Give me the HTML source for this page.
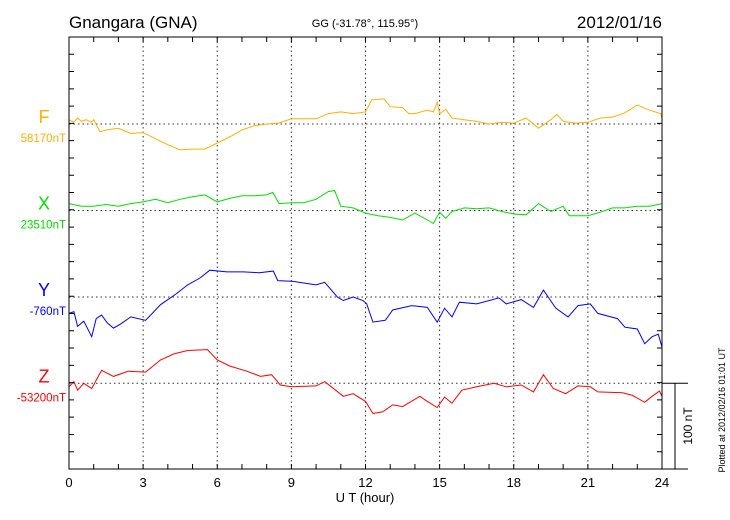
<!DOCTYPE html>
<html><head><meta charset="utf-8"><style>
body{margin:0;background:#fff;width:730px;height:520px;overflow:hidden}
svg{display:block;font-family:"Liberation Sans",sans-serif}
</style></head><body>
<svg id="chart" width="730" height="520">
<text x="69" y="28" font-size="17">Gnangara (GNA)</text>
<text x="365" y="27" font-size="11" text-anchor="middle">GG (-31.78°, 115.95°)</text>
<text x="662" y="28" font-size="17" text-anchor="end">2012/01/16</text>
<text x="365" y="502" font-size="13" text-anchor="middle">U T (hour)</text>
<text transform="translate(725,410) rotate(-90)" font-size="9" text-anchor="middle">Plotted at 2012/02/16 01:01  UT</text>
<text transform="translate(692,426) rotate(-90)" font-size="12" text-anchor="middle">100 nT</text>
<g id="grid"></g><g id="series"></g><g id="axes"></g>
</svg>
<script>
const hoursF=[0,0.2,0.35,0.5,0.7,0.9,1,1.25,1.5,2,2.5,3,3.5,4,4.5,5,5.5,6,6.5,7,7.5,8,8.5,9,9.5,10,10.5,11,11.5,12,12.25,12.75,13,13.5,13.75,14,14.5,14.75,14.9,15,15.25,15.5,16,16.5,17,17.5,18,18.5,19,19.5,19.75,20,20.5,21,21.5,22,22.5,23,23.5,23.95,24];
const valsF=[5,2,7,3,5,2,5,-9,-7,-5,-11,-10,-17,-24,-30,-29,-29,-22,-15,-7,-2,0,1,6,6,6,12,14,12,14,28,29,20,19,12,12,16,14,25,12,17,7,5,3,0,2,1,7,-5,5,11,3,1,2,7,8,13,22,16,12,6];
const hoursX=[0,0.5,1,1.5,2,2.5,3,3.5,4,4.5,5,5.5,6,6.5,7,7.5,8,8.25,8.5,9,9.5,10,10.5,10.75,11,11.5,12,12.5,13,13.5,14,14.5,14.75,15,15.25,15.5,16,16.5,17,17.5,18,18.5,19,19.5,20,20.25,21,21.5,22,22.5,23,23.5,24];
const valsX=[8,5,5,7,5,8,10,13,9,13,16,18,10,14,17,17,18,21,8,9,9,13,22,23,5,3,-3,-6,-8,-11,-3,-11,-15,-2,-9,-1,3,2,3,-1,-4,-5,8,-1,5,-6,-6,-2,3,3,5,5,8];
const hoursY=[0,0.2,0.35,0.6,0.92,1.1,1.32,1.55,1.8,2.1,2.5,3.1,3.7,4.36,4.8,5.3,5.7,6.4,7.05,7.7,8.27,8.45,9.07,10,10.35,10.86,11.1,11.5,11.9,12.05,12.3,12.8,13.1,13.87,14.5,14.9,15.2,15.5,15.8,16.5,17.4,17.7,18.3,18.8,19.2,19.7,20.2,20.6,21.1,21.4,22.2,22.5,23,23.3,23.6,23.85,24];
const valsY=[-19,-17,-34,-28,-46,-25,-21,-30,-36,-31,-23,-27,-9,4,14,22,31,29,29,28,30,19,18,14,17,0,-4,0,-4,-8,-29,-27,-15,-10,-12,-29,-13,-23,-6,-8,-1,-8,-3,-12,8,-13,-23,-10,-8,-19,-25,-35,-37,-54,-46,-43,-58];
const hoursZ=[0,0.2,0.35,0.6,0.92,1.32,1.8,2.4,3.1,3.7,4.25,4.8,5.6,6,6.5,7.2,7.75,8.2,8.55,9,10,10.35,11.1,11.5,12,12.3,12.7,13.1,13.5,14.2,14.5,14.9,15.2,15.5,15.9,16.5,17.2,17.7,18.3,18.8,19.2,19.6,20.1,20.6,21.1,21.4,22.4,22.8,23.3,23.6,23.9,24];
const valsZ=[-4,2,-8,0,-6,15,8,14,13,27,34,38,39,27,20,14,8,10,-2,-4,-3,2,-15,-12,-21,-35,-33,-25,-27,-15,-21,-28,-16,-23,-8,-4,0,-4,-2,-10,10,-6,-12,-3,-4,-10,-11,-14,-22,-15,-9,-15];
const seriesNames=["F","X","Y","Z"];
const baselineLabels=["58170nT","23510nT","-760nT","-53200nT"];
const xTickLabels=["0","3","6","9","12","15","18","21","24"];

const L=69,R=662,T=37,B=469,PX=0.864;
const baseY=[124,210.5,297,383.3];
const colors=["#ffb000","#00e000","#0000ff","#ff0000"];
const xs=h=>L+(R-L)*h/24;
const ys=(i,v)=>baseY[i]-v*PX;
const NS="http://www.w3.org/2000/svg";
function mk(tag,attrs,parent){const e=document.createElementNS(NS,tag);for(const k in attrs)e.setAttribute(k,attrs[k]);parent.appendChild(e);return e;}
const grid=document.getElementById('grid'),ser=document.getElementById('series'),ax=document.getElementById('axes');
for(let k=1;k<8;k++){const l=mk('line',{x1:xs(k*3),x2:xs(k*3),y1:T,y2:B,stroke:'#333','stroke-dasharray':'1.5,3','stroke-width':1},grid);

}
for(let i=0;i<4;i++){const l=mk('line',{x1:L,x2:R,y1:baseY[i],y2:baseY[i],stroke:'#333','stroke-dasharray':'1.5,3','stroke-width':1},grid);

}
const H=[hoursF,hoursX,hoursY,hoursZ],V=[valsF,valsX,valsY,valsZ];
for(let i=0;i<4;i++){
const pts=H[i].map((h,j)=>xs(h).toFixed(1)+','+ys(i,V[i][j]).toFixed(1)).join(' ');
const p=mk('polyline',{points:pts,fill:'none',stroke:colors[i],'stroke-width':1},ser);


const t=mk('text',{x:44,y:baseY[i]-1,'font-size':18,fill:colors[i],'text-anchor':'middle'},ser);t.textContent=seriesNames[i];


const b=mk('text',{x:66,y:baseY[i]+18,'font-size':11.5,fill:colors[i],'text-anchor':'end'},ser);b.textContent=baselineLabels[i];

}
const frame=mk('rect',{x:L,y:T,width:R-L,height:B-T,fill:'none',stroke:'#000','stroke-width':1},ax);


let d='';
for(let h=1;h<24;h++){d+=`M${xs(h)},${B}v-5M${xs(h)},${T}v5`;}
for(let k=1;k<25;k++){const y=T+k*(B-T)/25;d+=`M${L},${y}h5M${R},${y}h-5`;}
d+=`M${R},${B}H688M${R},${baseY[3]}H688M675,${baseY[3]}V${B}`;
const tk=mk('path',{d:d,stroke:'#000','stroke-width':1,fill:'none'},ax);


xTickLabels.forEach((s,k)=>{const t=mk('text',{x:xs(k*3),y:487,'font-size':13,'text-anchor':'middle'},ax);t.textContent=s;

});
</script>
</body></html>
